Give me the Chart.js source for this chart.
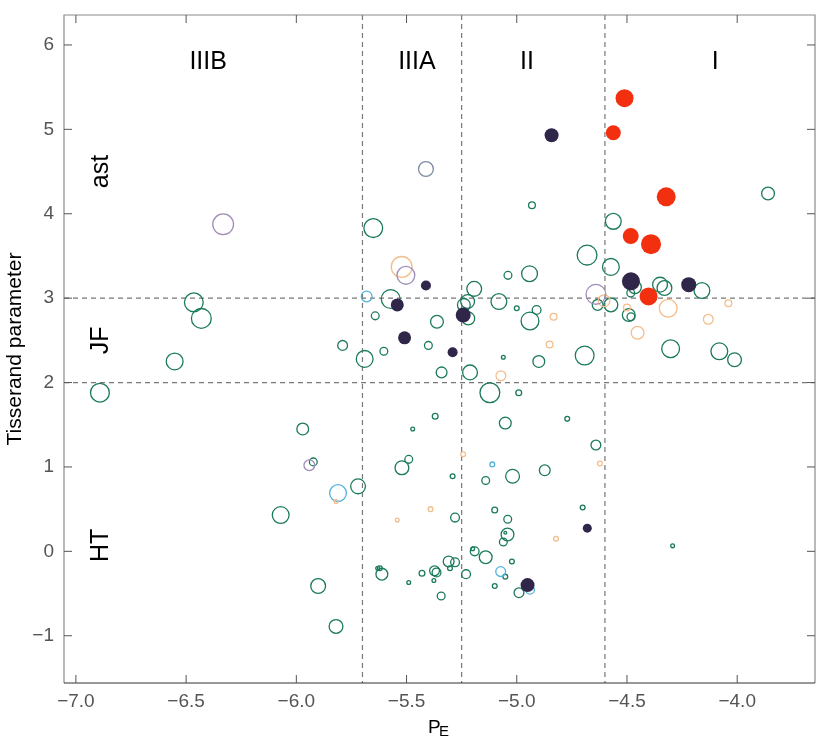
<!DOCTYPE html>
<html>
<head>
<meta charset="utf-8">
<script src="https://cdn.jsdelivr.net/npm/chart.js@4.4.1/dist/chart.umd.min.js"></script>
<style>
  body { margin: 0; background: #fff; }
  #wrap { width: 830px; height: 747px; }
</style>
</head>
<body>
<div id="wrap"><canvas id="mycanvas" width="830" height="747"></canvas></div>
<script>
// tick values
var xTicks = [-7.0, -6.5, -6.0, -5.5, -5.0, -4.5, -4.0];
var yTicks = [-1, 0, 1, 2, 3, 4, 5, 6];

// class boundaries
var peBounds = [-5.7, -5.25, -4.6];
var tBounds = [2, 3];

// region labels
var regionNames = ['IIIB', 'IIIA', 'II', 'I'];
var regionPE = [-6.40, -5.453, -4.954, -4.10];
var orbitNames = ['ast', 'JF', 'HT'];
var orbitT = [4.5, 2.5, 0.07];

// green open
var greenPE = [-6.465, -6.431, -6.552, -5.651, -5.572, -5.642, -5.79, -5.603, -5.69, -6.891,
  -5.971, -5.923, -5.72, -6.071, -5.901, -5.82, -5.472, -5.49, -5.521, -5.631,
  -5.621, -5.612, -5.49, -5.341, -5.212, -5.122, -4.991, -5.37, -5.052, -4.771,
  -4.641, -5.291, -5.141, -5.019, -4.873, -5.28, -5.10, -5.041, -5.042, -5.052,
  -5.061, -4.701, -4.293, -5.20, -5.191, -5.141, -5.022, -5.309, -5.28, -5.303,
  -5.23, -5.052, -5.10, -4.99, -5.373, -5.364, -5.376, -5.430, -5.343, -5.362,
  -5.401, -5.193, -5.24, -5.223, -5.22, -5.081, -5.04, -4.942, -5.0, -4.91,
  -4.94, -5.061, -4.90, -3.86, -4.931, -4.562, -4.681, -4.573, -4.464, -4.483,
  -4.35, -4.33, -4.16, -4.633, -4.573, -4.492, -4.482, -4.692, -4.302, -4.081, -4.012];
var greenT = [2.95, 2.76, 2.25, 3.83, 2.99, 2.79, 2.44, 2.37, 2.28, 1.88,
  1.45, 1.06, 0.77, 0.43, -0.41, -0.89, 1.45, 1.09, 0.99, -0.20,
  -0.20, -0.27, -0.37, 2.12, 2.12, 1.88, 1.88, 1.60, 1.52, 1.57,
  1.26, 0.89, 0.84, 0.89, 0.96, 0.40, 0.49, 0.38, 0.20, 0.22,
  0.11, 0.52, 0.065, 0.03, 0.0, -0.07, -0.12, -0.12, -0.13, -0.20,
  -0.27, -0.30, -0.41, -0.49, -0.23, -0.25, -0.345, -0.26, -0.53, 2.72,
  2.44, 3.11, 2.92, 2.96, 2.76, 2.96, 3.27, 3.29, 2.88, 2.86,
  2.73, 2.30, 2.25, 4.24, 4.10, 3.91, 3.51, 3.37, 3.13, 3.06,
  3.16, 3.12, 3.09, 2.92, 2.92, 2.80, 2.78, 2.32, 2.40, 2.37, 2.27];
var greenSize = [10, 10.5, 9, 10, 10, 4.5, 5.5, 4.5, 9, 10,
  6.5, 4.5, 8, 9, 8, 7.5, 2.5, 4.5, 7.5, 2.5,
  3, 6.5, 2.5, 6, 8, 10.5, 3.5, 3.5, 6.5, 3,
  5.5, 3, 4.5, 7.5, 6, 5, 3.5, 4.5, 7, 2,
  4.5, 3, 2.5, 2.5, 5, 7, 3, 6, 5, 3,
  5, 3, 3, 5.5, 5.5, 5, 2.5, 3.5, 4.5, 7,
  4.5, 8, 7, 7.5, 7, 8.5, 4.5, 8.5, 3, 5,
  9.5, 2.5, 6.5, 7, 4, 8.5, 10.5, 9, 7, 4.5,
  8, 8, 8.5, 6, 7.5, 7, 4.5, 10, 9.5, 9, 7.5];

// orange open
var orangePE = [-5.522, -5.82, -5.542, -5.072, -5.243, -4.623, -5.391, -4.822, -4.851, -4.833,
  -4.604, -4.50, -4.313, -4.04, -4.131, -4.452];
var orangeT = [3.37, 0.59, 0.37, 2.08, 1.15, 1.04, 0.50, 0.15, 2.45, 2.78,
  2.97, 2.89, 2.88, 2.94, 2.75, 2.59];
var orangeSize = [11, 2.5, 2.5, 5.5, 3, 3, 3, 3, 4, 4, 6.5, 4, 9.5, 4, 5.5, 7];

// purple open
var purplePE = [-6.332, -5.503, -5.941, -4.641];
var purpleT = [3.875, 3.27, 1.02, 3.045];
var purpleSize = [11, 9.5, 6, 10.5];

// light blue open
var bluePE = [-5.681, -5.811, -5.111, -5.073, -4.94];
var blueT = [3.02, 0.69, 1.03, -0.24, -0.455];
var blueSize = [6, 9, 3, 5.5, 5];

// slate open
var slatePE = [-5.412];
var slateT = [4.53];
var slateSize = [8];

// navy filled
var navyPE = [-5.542, -5.509, -5.412, -5.291, -5.243, -4.842, -4.482, -4.22, -4.68, -4.951];
var navyT = [2.92, 2.53, 3.15, 2.36, 2.80, 4.93, 3.20, 3.16, 0.275, -0.40];
var navySize = [6.5, 6.5, 5, 5, 7.5, 7, 9, 7.5, 4.5, 7];

// red filled
var redPE = [-4.511, -4.562, -4.322, -4.483, -4.391, -4.402];
var redT = [5.37, 4.96, 4.20, 3.735, 3.64, 3.02];
var redSize = [9, 7.5, 9.5, 8, 10, 9];

function pts(xs, ys, rs, open) {
  var out = [];
  for (var i in xs) {
    out.push({ x: xs[i], y: ys[i], r: open ? rs[i] - 0.6 : rs[i] });
  }
  return out;
}

function openSet(xs, ys, rs, color) {
  return {
    data: pts(xs, ys, rs, true),
    backgroundColor: 'rgba(0,0,0,0)',
    borderColor: color,
    borderWidth: 1.3,
    hoverBorderWidth: 1.3
  };
}

function filledSet(xs, ys, rs, color) {
  return {
    data: pts(xs, ys, rs, false),
    backgroundColor: color,
    borderColor: color,
    borderWidth: 0
  };
}

var minus = function(s) { return s.replace('-', '\u2212'); };

var extras = {
  id: 'extras',
  beforeDatasetsDraw: function(chart) {
    var ctx = chart.ctx, a = chart.chartArea;
    var xs = chart.scales.x, ys = chart.scales.y;
    ctx.save();
    ctx.strokeStyle = '#777';
    ctx.lineWidth = 1.2;
    ctx.setLineDash([5, 4]);
    peBounds.forEach(function(v) {
      var px = xs.getPixelForValue(v);
      ctx.beginPath(); ctx.moveTo(px, a.top); ctx.lineTo(px, a.bottom); ctx.stroke();
    });
    tBounds.forEach(function(v) {
      var py = ys.getPixelForValue(v);
      ctx.beginPath(); ctx.moveTo(a.left, py); ctx.lineTo(a.right, py); ctx.stroke();
    });
    ctx.restore();
  },
  afterDraw: function(chart) {
    var ctx = chart.ctx, a = chart.chartArea;
    var xs = chart.scales.x, ys = chart.scales.y;
    ctx.save();
    // box
    ctx.lineWidth = 1.2;
    ctx.strokeStyle = '#8a8a8a';
    ctx.beginPath();
    ctx.moveTo(a.left, a.bottom); ctx.lineTo(a.left, a.top);
    ctx.lineTo(a.right, a.top); ctx.lineTo(a.right, a.bottom);
    ctx.stroke();
    ctx.strokeStyle = '#333';
    ctx.beginPath(); ctx.moveTo(a.left, a.bottom); ctx.lineTo(a.right, a.bottom); ctx.stroke();
    // inward ticks
    ctx.strokeStyle = '#555';
    ctx.lineWidth = 1;
    xTicks.forEach(function(v) {
      var px = xs.getPixelForValue(v);
      ctx.beginPath();
      ctx.moveTo(px, a.bottom); ctx.lineTo(px, a.bottom - 8);
      ctx.moveTo(px, a.top); ctx.lineTo(px, a.top + 8);
      ctx.stroke();
    });
    yTicks.forEach(function(v) {
      var py = ys.getPixelForValue(v);
      ctx.beginPath();
      ctx.moveTo(a.left, py); ctx.lineTo(a.left + 8, py);
      ctx.moveTo(a.right, py); ctx.lineTo(a.right - 8, py);
      ctx.stroke();
    });
    // region labels
    ctx.fillStyle = '#000';
    ctx.font = '25px "Liberation Sans", Arial, sans-serif';
    ctx.textAlign = 'center';
    ctx.textBaseline = 'middle';
    var ly = ys.getPixelForValue(5.795);
    regionNames.forEach(function(n, i) {
      ctx.fillText(n, xs.getPixelForValue(regionPE[i]), ly);
    });
    orbitNames.forEach(function(n, i) {
      ctx.save();
      ctx.translate(xs.getPixelForValue(-6.855), ys.getPixelForValue(orbitT[i]));
      ctx.rotate(-Math.PI / 2);
      ctx.textBaseline = 'alphabetic';
      ctx.fillText(n, 0, 0);
      ctx.restore();
    });
    // axis titles
    ctx.save();
    ctx.translate(a.left - 43.5, (a.top + a.bottom) / 2);
    ctx.rotate(-Math.PI / 2);
    ctx.textBaseline = 'alphabetic';
    ctx.font = '21px "Liberation Sans", Arial, sans-serif';
    ctx.fillText('Tisserand parameter', 0, 0);
    ctx.restore();
    ctx.textAlign = 'left';
    ctx.textBaseline = 'alphabetic';
    ctx.font = '19px "Liberation Sans", Arial, sans-serif';
    var cx = (a.left + a.right) / 2;
    ctx.fillText('P', cx - 11.5, 732.7);
    ctx.font = '15px "Liberation Sans", Arial, sans-serif';
    ctx.fillText('E', cx - 0.5, 735.7);
    ctx.restore();
  }
};

var ctx = document.getElementById('mycanvas');

var scatter = new Chart(ctx, {
  type: 'bubble',
  data: {
    datasets: [
      filledSet(redPE, redT, redSize, '#f2300f'),
      filledSet(navyPE, navyT, navySize, '#30264a'),
      openSet(purplePE, purpleT, purpleSize, '#a08cb8'),
      openSet(orangePE, orangeT, orangeSize, '#f3be8c'),
      openSet(slatePE, slateT, slateSize, '#7c8aa2'),
      openSet(bluePE, blueT, blueSize, '#52b4dc'),
      openSet(greenPE, greenT, greenSize, '#1b7a5a')
    ]
  },
  options: {
    responsive: false,
    animation: false,
    layout: { padding: { top: 15, right: 15, left: 0, bottom: 0 } },
    plugins: { legend: { display: false }, tooltip: { enabled: false } },
    scales: {
      x: {
        type: 'linear',
        min: -7.054,
        max: -3.647,
        grid: { display: false, drawTicks: false },
        border: { display: false },
        afterBuildTicks: function(s) { s.ticks = xTicks.map(function(v) { return { value: v }; }); },
        afterFit: function(s) { s.height = 64; s.paddingLeft = 0; s.paddingRight = 0; },
        ticks: {
          padding: 7,
          color: '#555',
          font: { family: '"Liberation Sans", Arial, sans-serif', size: 19 },
          maxRotation: 0,
          callback: function(v) { return minus(v.toFixed(1)); }
        }
      },
      y: {
        type: 'linear',
        min: -1.56,
        max: 6.355,
        grid: { display: false, drawTicks: false },
        border: { display: false },
        afterBuildTicks: function(s) { s.ticks = yTicks.map(function(v) { return { value: v }; }); },
        afterFit: function(s) { s.width = 64; s.paddingTop = 0; s.paddingBottom = 0; },
        ticks: {
          padding: 10,
          color: '#555',
          font: { family: '"Liberation Sans", Arial, sans-serif', size: 19 },
          callback: function(v) { return minus(String(v)); }
        }
      }
    }
  },
  plugins: [extras]
});
</script>
</body>
</html>
